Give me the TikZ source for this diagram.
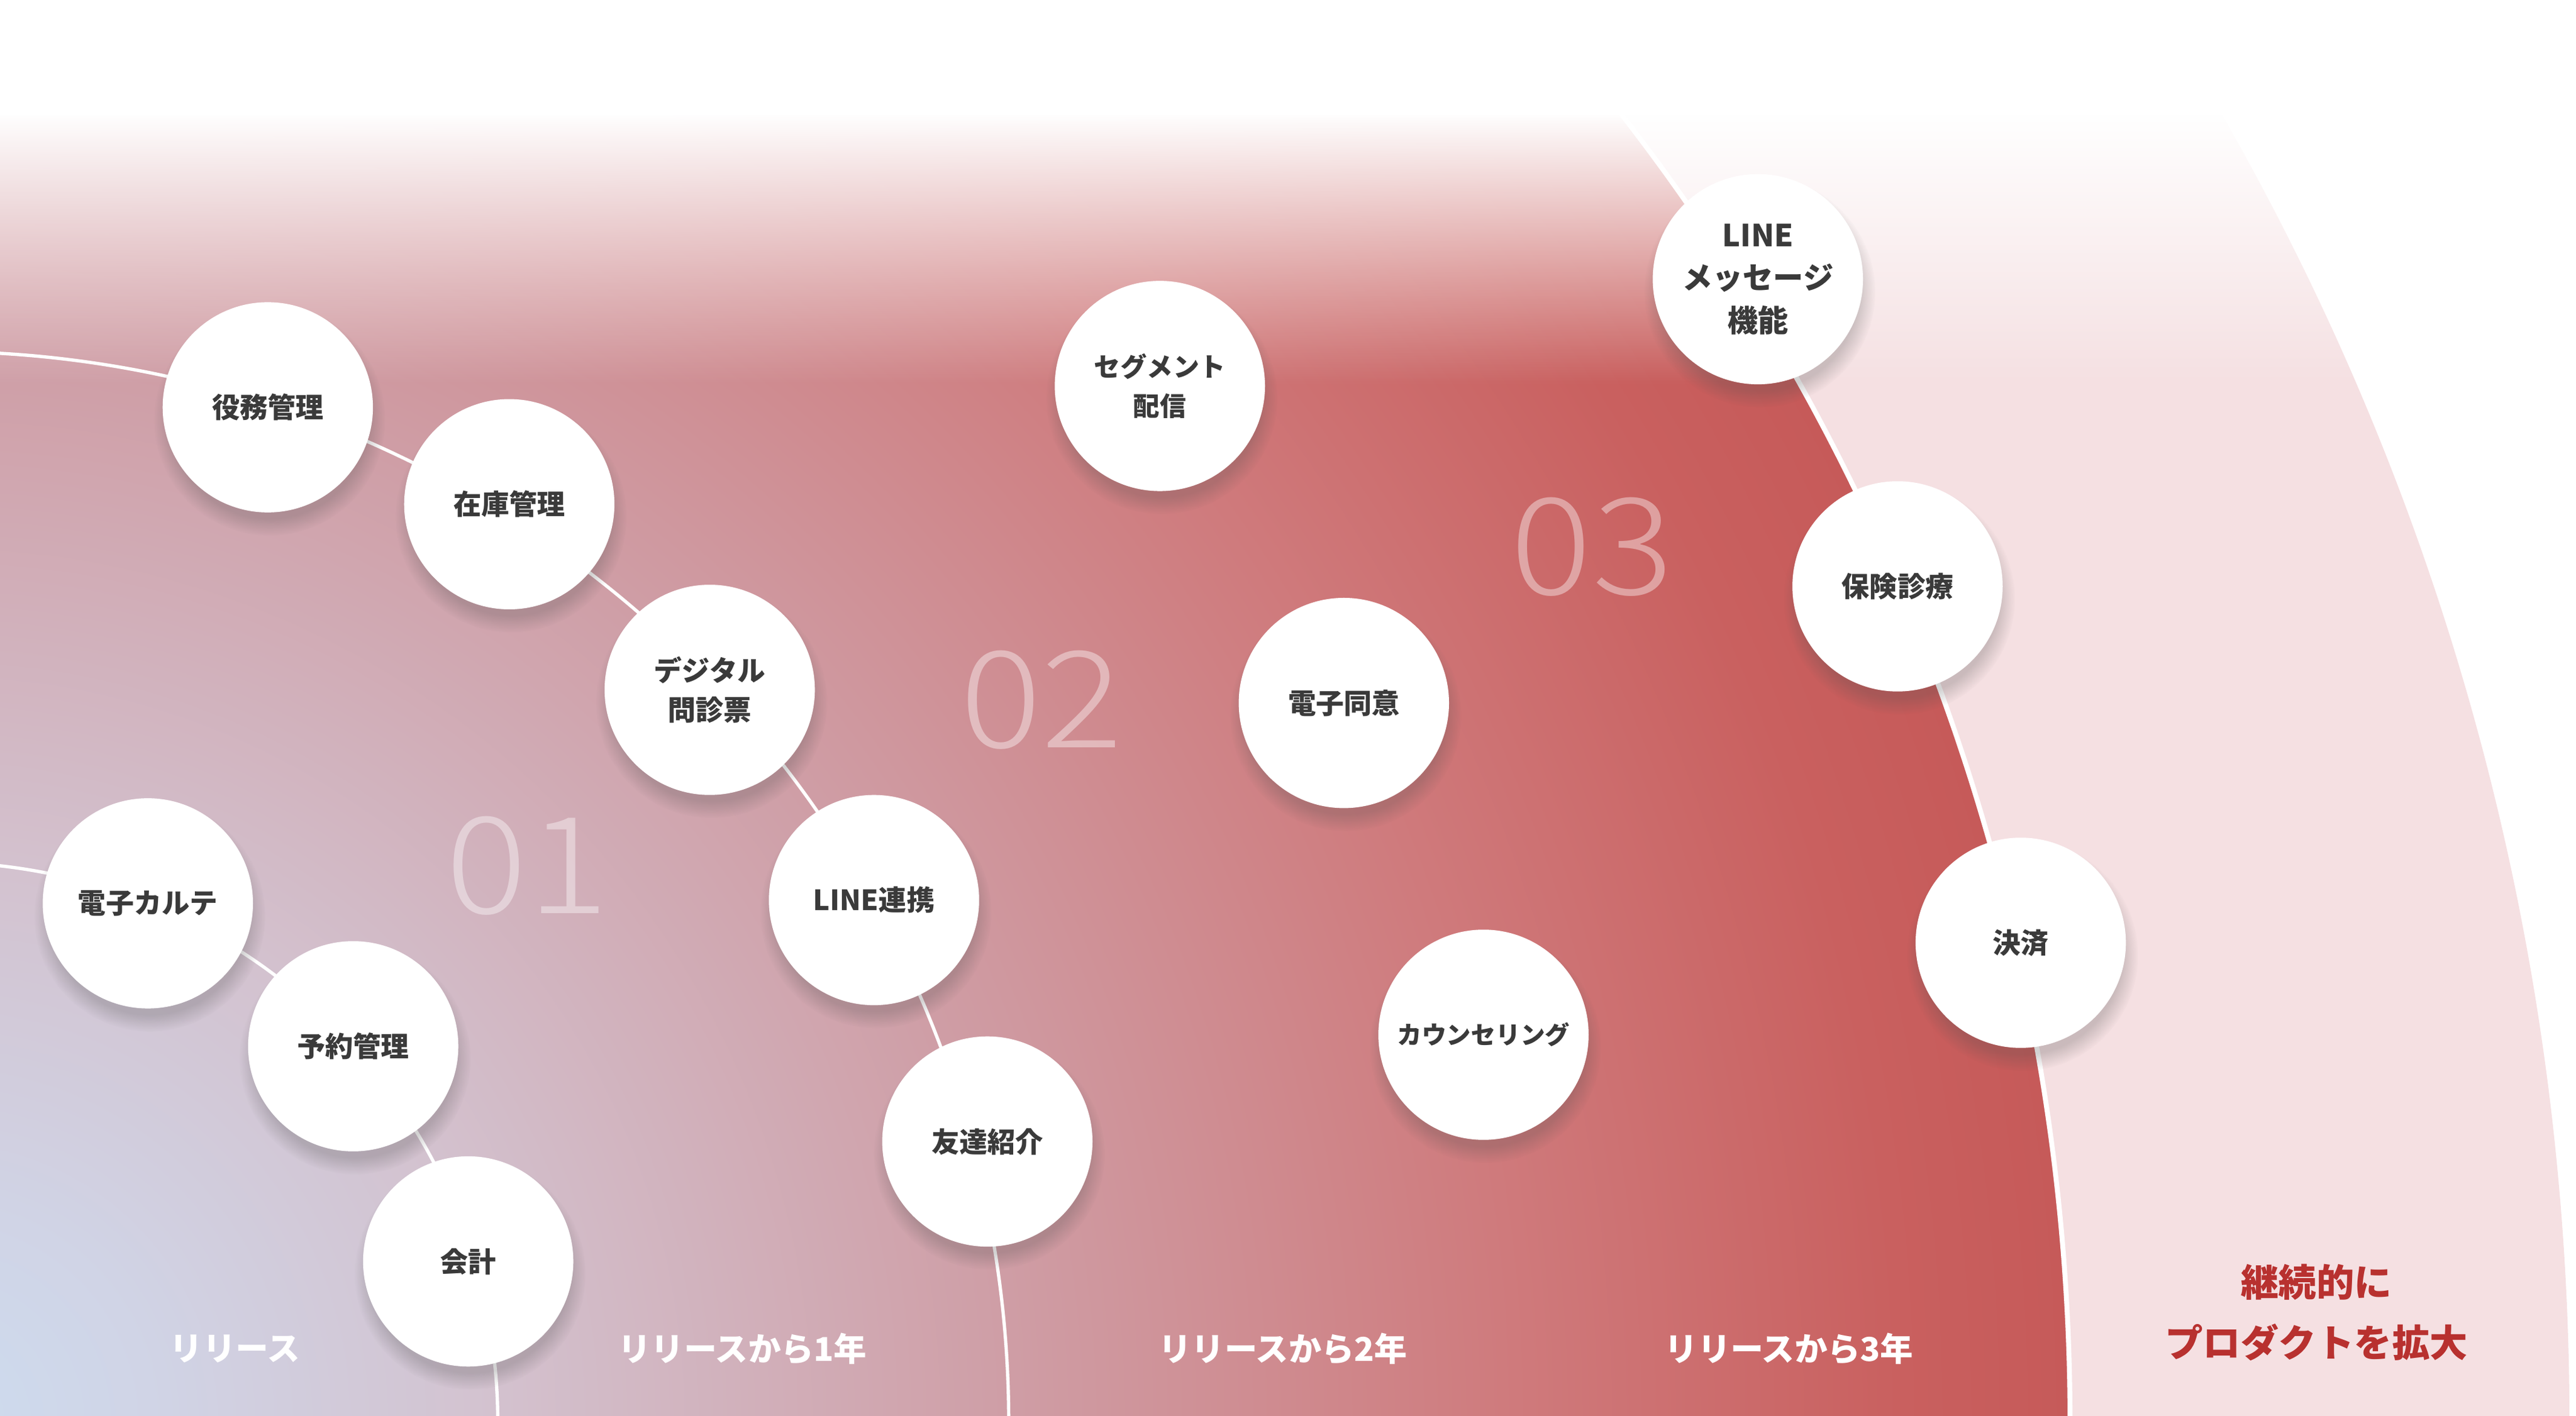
\documentclass[tikz,border=0pt]{standalone}
\usepackage{fontspec}
\setmainfont{Noto Sans CJK JP}
\newfontfamily\phasefont{Noto Sans CJK JP Light}
\usetikzlibrary{shadows}
\usetikzlibrary{fadings}

\definecolor{ringpink}{HTML}{F5E0E2}
\definecolor{labelred}{HTML}{B8312F}
\definecolor{textgray}{HTML}{3A3A3A}
\definecolor{sh0}{HTML}{CDDCEF}
\definecolor{sh1}{HTML}{D0D4E6}
\definecolor{sh2}{HTML}{D3C2CF}
\definecolor{sh3}{HTML}{CF9EA6}
\definecolor{sh4}{HTML}{CF7A7C}
\definecolor{sh5}{HTML}{C9605F}
\definecolor{sh6}{HTML}{C65A59}
\pgfdeclareradialshading{release}{\pgfpoint{0bp}{0bp}}{color(0bp)=(sh0); color(2.5bp)=(sh1); color(6.5bp)=(sh2); color(12.5bp)=(sh3); color(18.5bp)=(sh4); color(23bp)=(sh5); color(25bp)=(sh6); color(50bp)=(sh6)}
\tikzfading[name=topfade, top color=transparent!0, bottom color=transparent!100]

\begin{document}
\begin{tikzpicture}[x=1pt, y=1pt,
 feature/.style={circle, fill=white, minimum size=128pt, inner sep=0pt, align=center, text=textgray,
   font=\bfseries\fontsize{17}{24}\selectfont,
   circular drop shadow={shadow xshift=1pt, shadow yshift=-7pt, shadow scale=1.1, fill=black!70, opacity=.25}},
 period/.style={text=white, font=\bfseries\fontsize{20}{24}\selectfont},
 phase/.style={text=white, opacity=.4, xscale=1.13, transform shape, font=\phasefont\fontsize{82}{82}\selectfont}]
\useasboundingbox (0,0) rectangle (1568,862);
\clip (0,0) rectangle (1568,862);
\coordinate (O) at (-38,-4);
\fill[ringpink] (O) circle[radius=1602];
\path[shading=release] (O) circle[radius=1298];
\fill[white] (0,792) rectangle (1568,862);
\fill[white, path fading=topfade] (0,628) rectangle (1568,793);
\foreach \r/\w in {341/2, 652/2, 1298/3}
 \draw[white, line width=\w pt] (O) ++(-5:\r) arc[start angle=-5, end angle=95, radius=\r];

\node[phase] (ph1) at (321,335) {01};
\node[phase] (ph2) at (634,436) {02};
\node[phase] (ph3) at (969,529) {03};

\node[feature] (karte) at (90,312) {電子カルテ};
\node[feature] (yoyaku) at (215,225) {予約管理};
\node[feature] (kaikei) at (285,94) {会計};
\node[feature] (yakumu) at (163,614) {役務管理};
\node[feature] (zaiko) at (310,555) {在庫管理};
\node[feature] (monshin) at (432,442) {デジタル\\問診票};
\node[feature] (renkei) at (532,314) {LINE連携};
\node[feature] (shokai) at (601,167) {友達紹介};
\node[feature, font=\bfseries\fontsize{16}{24}\selectfont] (segment) at (706,627) {セグメント\\配信};
\node[feature] (doui) at (818,434) {電子同意};
\node[feature, font=\bfseries\fontsize{15}{24}\selectfont] (counsel) at (903,232) {カウンセリング};
\node[feature, font=\bfseries\fontsize{18.5}{26}\selectfont] (message) at (1070,692) {LINE\\メッセージ\\機能};
\node[feature] (hoken) at (1155,505) {保険診療};
\node[feature] (kessai) at (1230,288) {決済};

\node[period] (y0) at (143,41) {リリース};
\node[period] (y1) at (452,41) {リリースから1年};
\node[period] (y2) at (781,41) {リリースから2年};
\node[period] (y3) at (1089,41) {リリースから3年};
\node[align=center, text=labelred, font=\bfseries\fontsize{23}{37}\selectfont] (expand) at (1410,63) {継続的に\\プロダクトを拡大};
\end{tikzpicture}
\end{document}
